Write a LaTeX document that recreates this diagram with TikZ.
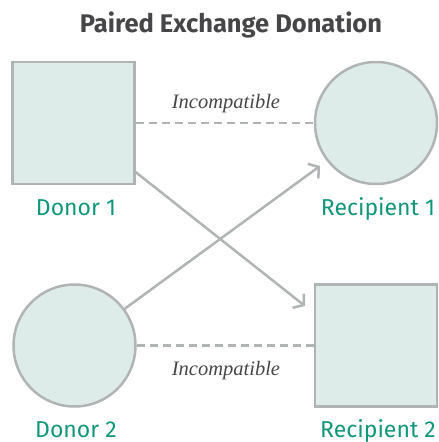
\documentclass[tikz,border=0pt]{standalone}
\usepackage{fontspec}
\setsansfont{Fira Sans}
\newfontfamily\notefont{Liberation Serif}
\usepackage{xcolor}
\definecolor{Col1}{RGB}{176,180,180}
\definecolor{Col2}{RGB}{222,236,233}
\definecolor{Col3}{RGB}{18,150,122}
\definecolor{Col4}{RGB}{70,70,72}
\usetikzlibrary{arrows.meta}
\tikzstyle{Square}=[rectangle,draw=Col1,fill=Col2,line width=2.5pt,
minimum size=122pt,inner sep=0pt]
\tikzstyle{Disc}=[circle,draw=Col1,fill=Col2,line width=2.5pt,
minimum size=122pt,inner sep=0pt]
\tikzstyle{Edge}=[draw=Col1,line width=2.5pt,-{Straight Barb[length=7pt,width=18pt,line width=2.5pt]}]
\tikzstyle{Dash}=[draw=Col1,line width=2.5pt,dash pattern=on 8pt off 5pt]
\tikzstyle{NodeST}=[font=\sffamily\fontsize{23}{26}\selectfont,text=Col3,
anchor=base,inner sep=0pt]
\tikzstyle{NodeIC}=[font=\notefont\itshape\fontsize{20.5}{24}\selectfont,text=Col4,
anchor=base,inner sep=0pt]

\begin{document}
\begin{tikzpicture}[x=1pt,y=-1pt]
        \useasboundingbox (0,0) rectangle (439,442);
        \node[font=\sffamily\bfseries\fontsize{25.5}{30}\selectfont,text=Col4,
            anchor=base,inner sep=0pt](title)at(231,32){Paired Exchange Donation};
        \node[Square](d1)at(73.5,123){};
        \node[Disc](r1)at(376,123){};
        \node[Disc](d2)at(74.5,345.5){};
        \node[Square](r2)at(376,345.5){};
        \node[NodeST](l1)at(76,215){Donor 1};
        \node[NodeST](l2)at(378,215){Recipient 1};
        \node[NodeST](l3)at(76,437){Donor 2};
        \node[NodeST](l4)at(378,437){Recipient 2};
        \draw[Dash](d1)--(r1);
        \draw[Dash](d2)--(r2);
        \node[NodeIC](i1)at(226,108){Incompatible};
        \node[NodeIC](i2)at(226,375){Incompatible};
        \coordinate(t1)at(320,166);
        \coordinate(t2)at(305,306);
        \draw[Edge](d1)--(t2);
        \draw[Edge](d2)--(t1);
    \end{tikzpicture}
\end{document}
